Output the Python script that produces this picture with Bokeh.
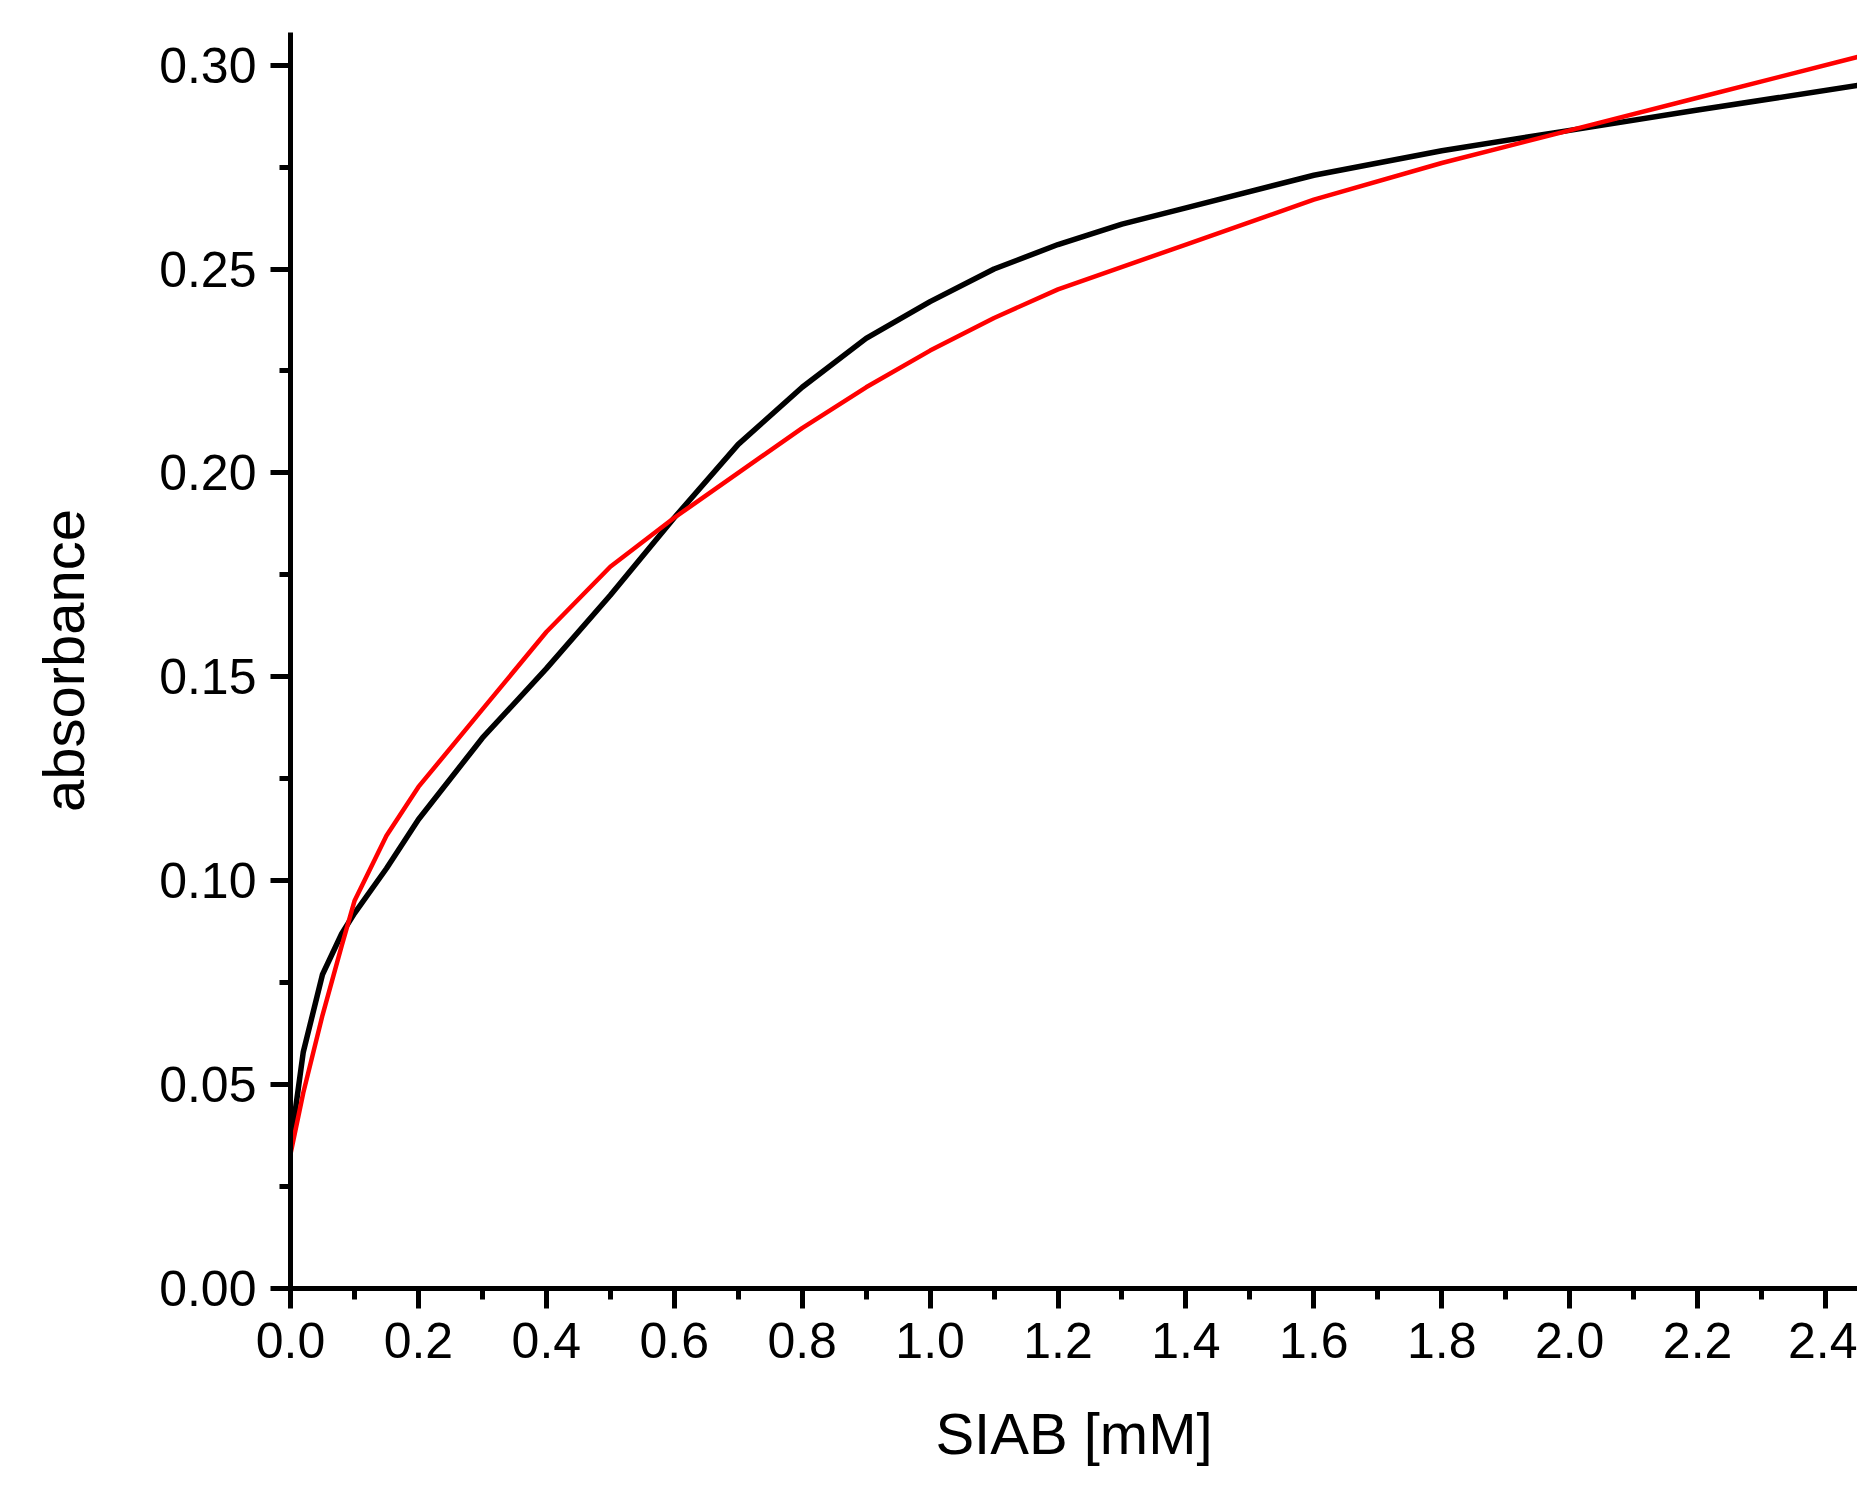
from bokeh.plotting import figure
from bokeh.models import Range1d, FixedTicker, CustomJSTickFormatter
from bokeh.embed import file_html
from bokeh.resources import INLINE

bx = [0, 0.02, 0.05, 0.08, 0.1, 0.15, 0.2, 0.3, 0.4, 0.5, 0.6, 0.7, 0.8, 0.9, 1.0, 1.1, 1.2, 1.3, 1.4, 1.6, 1.8, 2.0, 2.2, 2.45]
by = [0.035, 0.058, 0.077, 0.087, 0.092, 0.103, 0.115, 0.135, 0.152, 0.170, 0.189, 0.207, 0.221, 0.233, 0.242, 0.250, 0.256, 0.261, 0.265, 0.273, 0.279, 0.284, 0.289, 0.295]
rx = [0, 0.02, 0.05, 0.08, 0.1, 0.15, 0.2, 0.3, 0.4, 0.5, 0.6, 0.7, 0.8, 0.9, 1.0, 1.1, 1.2, 1.4, 1.6, 1.8, 2.0, 2.2, 2.45]
ry = [0.033, 0.048, 0.067, 0.084, 0.095, 0.111, 0.123, 0.142, 0.161, 0.177, 0.189, 0.200, 0.211, 0.221, 0.230, 0.238, 0.245, 0.256, 0.267, 0.276, 0.284, 0.292, 0.302]
xticks = [0.0, 0.2, 0.4, 0.6, 0.8, 1.0, 1.2, 1.4, 1.6, 1.8, 2.0, 2.2, 2.4]
yticks = [0.0, 0.05, 0.10, 0.15, 0.20, 0.25, 0.30]

p = figure(width=1857, height=1486, output_backend="svg", toolbar_location=None,
           x_range=Range1d(0, 2.45), y_range=Range1d(0, 0.308),
           x_axis_label="SIAB [mM]", y_axis_label="absorbance")
p.min_border_left = 290; p.min_border_right = 0; p.min_border_top = 32; p.min_border_bottom = 198
p.outline_line_color = None
p.grid.visible = False
p.xaxis.ticker = FixedTicker(ticks=xticks, minor_ticks=[i/10 for i in range(25)])
p.yaxis.ticker = FixedTicker(ticks=yticks, minor_ticks=[i*0.025 for i in range(13)])
p.xaxis.formatter = CustomJSTickFormatter(code="return tick.toFixed(1)")
p.yaxis.formatter = CustomJSTickFormatter(code="return tick.toFixed(2)")
for ax in (p.xaxis, p.yaxis):
    ax.axis_line_width = 5
    ax.major_tick_line_width = 5
    ax.minor_tick_line_width = 5
    ax.major_tick_out = 20
    ax.major_tick_in = 0
    ax.minor_tick_out = 11
    ax.minor_tick_in = 0
    ax.major_label_text_font = "Liberation Sans"
    ax.major_label_text_font_size = "50px"
    ax.major_label_text_color = "black"
    ax.axis_label_text_font = "Liberation Sans"
    ax.axis_label_text_font_size = "58px"
    ax.axis_label_text_font_style = "normal"
    ax.axis_label_text_color = "black"
p.xaxis.major_label_standoff = 14
p.yaxis.major_label_standoff = 14
p.xaxis.axis_label_standoff = 40
p.yaxis.axis_label_standoff = 60

p.line(bx, by, line_color="black", line_width=5.5)
p.line(rx, ry, line_color="red", line_width=4.5)

open("out.html", "w").write(file_html(p, INLINE))
